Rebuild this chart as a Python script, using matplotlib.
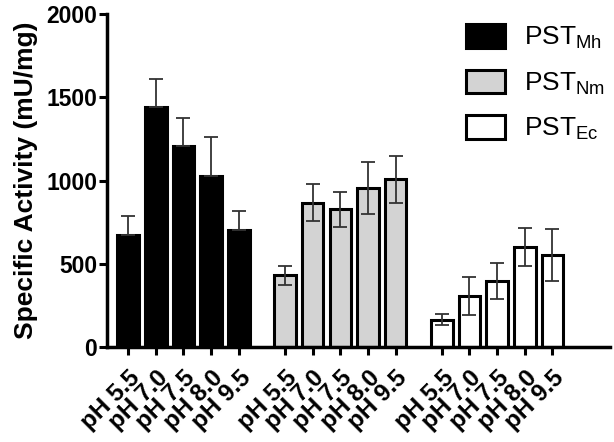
import numpy as np
import matplotlib
matplotlib.use("Agg")
import matplotlib.pyplot as plt

plt.rcParams['font.family'] = ['Liberation Sans', 'DejaVu Sans']
plt.rcParams['mathtext.fontset'] = 'custom'
plt.rcParams['mathtext.rm'] = 'Liberation Sans'
plt.rcParams['mathtext.it'] = 'Liberation Sans:italic'
plt.rcParams['mathtext.bf'] = 'Liberation Sans:bold'

ph_labels = ["pH 5.5", "pH 7.0", "pH 7.5", "pH 8.0", "pH 9.5"]
series = ["PST$_{\\mathrm{Mh}}$", "PST$_{\\mathrm{Nm}}$", "PST$_{\\mathrm{Ec}}$"]
colors = ["black", "#d3d3d3", "white"]

mh_mean = [675, 1440, 1205, 1030, 705]
mh_err = [115, 172, 172, 230, 110]
nm_mean = [430, 868, 828, 956, 1008]
nm_err = [58, 113, 106, 154, 140]
ec_mean = [165, 307, 395, 601, 551]
ec_err = [35, 115, 108, 113, 155]

means = [mh_mean, nm_mean, ec_mean]
errs = [mh_err, nm_err, ec_err]

fig = plt.figure(figsize=(6.14, 4.42), dpi=100)
ax = fig.add_axes([0.174, 0.215, 0.819, 0.753])

group_step = 5.67
xt = []
xl = []
for g in range(3):
    x = np.arange(5) + g * group_step
    ax.bar(x, means[g], width=0.78, color=colors[g], edgecolor="black",
           linewidth=2.2, label=series[g], zorder=2)
    e = np.array(errs[g])
    # black bars hide the lower half of the error bar
    lower = np.zeros_like(e) if g == 0 else e
    ax.errorbar(x, means[g], yerr=[lower, e], fmt="none", ecolor="#333333",
                elinewidth=1.3, capsize=4.7, capthick=1.3, zorder=3)
    xt.extend(x)
    xl.extend(ph_labels)

ax.set_xlim(-0.77, 4 + 2 * group_step + 2.07)
ax.set_ylim(0, 2000)
ax.set_yticks([0, 500, 1000, 1500, 2000])
ax.set_xticks(xt)
ax.set_xticklabels(xl, rotation=45, ha="right", rotation_mode="anchor",
                   fontsize=17.5, fontweight="bold")
for lab in ax.get_yticklabels():
    lab.set_fontsize(16.5)
    lab.set_fontweight("bold")
ax.set_ylabel("Specific Activity (mU/mg)", fontsize=19, fontweight="bold",
              labelpad=6)

for s in ["top", "right"]:
    ax.spines[s].set_visible(False)
for s in ["left", "bottom"]:
    ax.spines[s].set_linewidth(2.5)
ax.tick_params(axis="both", width=2.2, length=6, direction="out")
ax.tick_params(axis="y", pad=1)
ax.tick_params(axis="x", pad=8)

ax.legend(loc="upper right", bbox_to_anchor=(1.016, 1.01), frameon=False,
          fontsize=19, handlelength=1.5, handleheight=1.0,
          handletextpad=0.7, labelspacing=0.7, borderaxespad=0.1)

fig.savefig("out.png", dpi=100)
